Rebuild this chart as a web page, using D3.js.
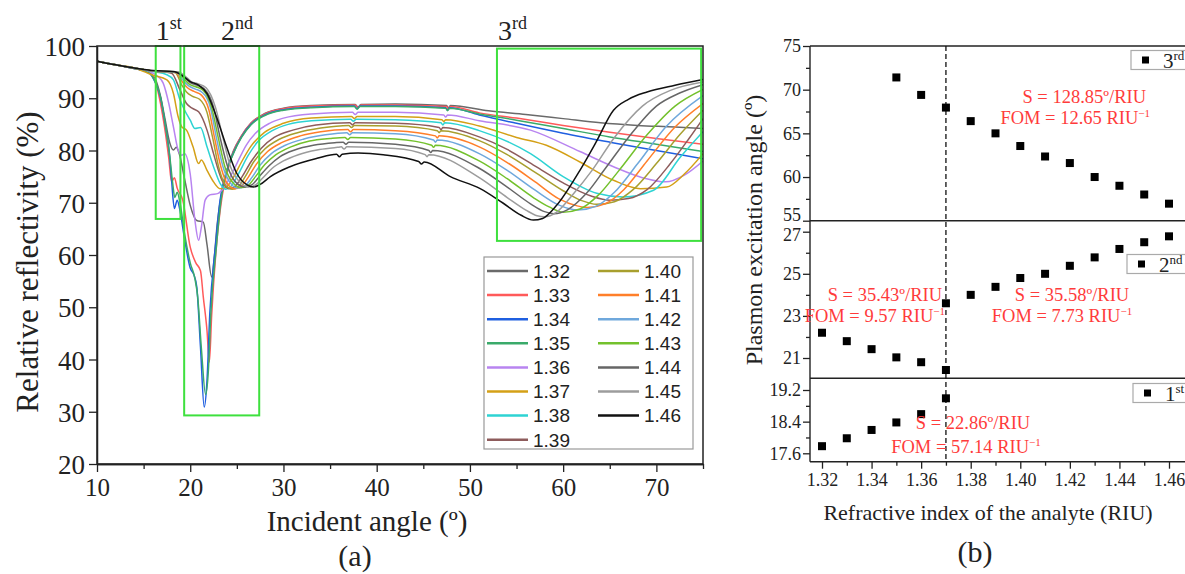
<!DOCTYPE html>
<html lang="en">
<head>
<meta charset="UTF-8">
<title>SPR reflectivity and plasmon angles</title>
<script src="https://cdn.jsdelivr.net/npm/d3@7"></script>
<style>
  body { margin: 0; background: #fff; }
  svg text { font-family: 'Liberation Serif', 'Times New Roman', serif; fill: #222; }
  .legend-text { font-family: 'Liberation Sans', Arial, sans-serif; }
  .note { fill: #ff3b3b; }
</style>
</head>
<body>
<svg id="chart" width="1185" height="574"></svg>
<script>
// ---------- panel (a): reflectivity curves, [angle, R%] ----------
const indices = ["1.32","1.33","1.34","1.35","1.36","1.37","1.38","1.39","1.40","1.41","1.42","1.43","1.44","1.45","1.46"];
const colors  = ["#6a6a6a","#ff5a5a","#1f5fe0","#3aaa6a","#b884f0","#d4a017","#2ed3d3","#8e5c5c","#a89f2e","#ff7f2a","#6fa8dc","#73c12c","#666666","#9c9c9c","#111111"];

const n132 = [[10,97.1],[12,96.4],[14,95.7],[15.5,95.0],[16.3,93.5],[16.8,90.5],[17.3,86],[17.8,81.5],[18.2,80.1],[18.5,80.6],[18.8,79.5],[19.4,74.5],[20,69.5],[20.7,66.6],[21.4,66.3],[21.8,62],[22.3,55.8],[22.6,60],[22.9,66],[23.4,72.2],[24,76.5],[24.6,79.8],[25.5,82.8],[26.5,85.2],[28,87.1],[30,88.1],[33,88.6],[37.7,88.8],[38.0,88.3],[38.3,88.8],[42,88.9],[47.5,88.6],[47.7,88.1],[47.9,88.6],[52,87.6],[56,86.9],[60,86.1],[64,85.3],[68,84.8],[72,84.5],[75,84.2]];
const n133 = [[10,97.1],[12,96.4],[14,95.7],[15.5,95.0],[16.2,93.5],[16.7,90],[17.2,85],[17.7,78.5],[18.0,74.0],[18.3,74.8],[18.6,72.8],[19.2,70.5],[20,61.5],[20.6,58.5],[21.1,57],[21.4,52],[21.8,45.5],[22.05,39.5],[22.3,48.5],[22.8,61.5],[23.4,71],[24,76],[24.6,79.6],[25.5,82.8],[26.5,85.2],[28,87],[30,88],[33,88.5],[37.7,88.7],[38.0,88.2],[38.3,88.7],[42,88.7],[47.5,88.4],[47.7,87.9],[47.9,88.4],[51,87.2],[55,86.2],[60,84.8],[65,83.5],[70,82.3],[75,81.2]];
const n134 = [[10,97.1],[12,96.4],[14,95.7],[15.5,95.0],[16.2,93.2],[16.8,90.2],[17.3,85.2],[17.8,78.8],[18.0,74.3],[18.3,68.9],[18.6,70.5],[18.9,68.5],[19.4,63],[20,57.5],[20.4,56.2],[20.7,53.9],[21.1,42.4],[21.5,30.9],[21.8,36],[22.1,48.8],[22.7,61.6],[23.2,70.5],[23.8,75.5],[24.6,79.4],[25.5,82.6],[26.5,85],[28,86.8],[30,87.8],[33,88.3],[37.6,88.5],[37.9,88.0],[38.2,88.5],[42,88.5],[47.4,88.2],[47.6,87.7],[47.8,88.2],[51,86.8],[55,85.2],[60,83.3],[65,81.6],[70,80],[75,78.4]];
const n135 = [[10,97.1],[12,96.4],[14,95.7],[15.5,95.0],[16.2,93.3],[16.8,90.3],[17.3,85.3],[17.8,79],[18.1,74],[18.35,71],[18.6,72],[18.9,70],[19.4,64],[20,58.5],[20.5,55.5],[20.8,52],[21.2,42],[21.65,33.3],[21.95,38],[22.2,48.5],[22.8,61.5],[23.3,70.5],[23.8,75.3],[24.6,79.3],[25.5,82.5],[26.5,84.9],[28,86.7],[30,87.7],[33,88.2],[37.6,88.4],[37.9,87.9],[38.2,88.4],[42,88.4],[47.4,88.1],[47.6,87.6],[47.8,88.1],[51,87.0],[55,85.8],[60,84.2],[65,82.6],[70,81.2],[75,79.8]];
const n136 = [[10,97.1],[12,96.4],[14,95.8],[15.5,95.2],[16.5,94.2],[17.1,92.9],[17.7,89.0],[18.2,84.5],[18.7,80.1],[19.1,79.1],[19.4,79.4],[20,75.5],[20.5,66.7],[20.9,62.8],[21.2,65.4],[21.6,70.5],[22.1,71.5],[23.0,71.8],[23.6,72.9],[24.3,75],[25,77.5],[26,81],[27,83.3],[28.5,85.2],[30,86.2],[33,87],[37.4,87.3],[37.7,86.9],[38.0,87.3],[42,87.3],[47.2,86.8],[47.4,86.4],[47.6,86.8],[51,85.7],[56.5,83.9],[61.8,79.8],[65.4,76.9],[68.5,74.8],[71,74],[73,75.3],[75,78]];
const n137 = [[10,97.1],[12,96.4],[14,95.8],[16,94.4],[17.5,93.5],[18.2,90.9],[18.7,86.5],[19.1,84.5],[19.6,83.9],[20.3,80.7],[20.9,77.5],[21.2,78.2],[21.8,76.2],[22.5,74],[23.2,72.7],[23.8,72.9],[24.5,74.5],[25.5,77.8],[26.5,80.8],[28,83.5],[30,85.2],[33,86.2],[37.3,86.5],[37.6,86.1],[37.9,86.5],[42,86.5],[47,85.9],[47.2,85.5],[47.4,85.9],[51,84.7],[55,82.5],[58.2,81.0],[61.8,77.8],[65.4,74.3],[68.3,72.7],[71.1,73.0],[73,75.5],[75,79.4]];
const n138 = [[10,97.1],[12,96.4],[14,95.8],[16,95.1],[17.5,94.5],[18.2,93.5],[18.9,89.7],[19.4,87.7],[20,85.8],[20.5,84.2],[21.1,84.4],[21.8,80.7],[22.5,76.9],[23.2,73.7],[23.8,72.6],[24.4,73.2],[25.2,75.6],[26.2,79],[27.3,81.8],[28.8,83.8],[30.5,85],[33,85.7],[37.2,86.0],[37.5,85.6],[37.8,86.0],[42,85.9],[46.9,85.3],[47.1,84.9],[47.3,85.3],[51,83.8],[56.5,79.4],[60,75.0],[63.6,71.8],[66.4,71.1],[69.7,72.4],[72.6,78.8],[75,83.6]];
const n139 = [[10,97.1],[12,96.4],[14,95.8],[16,95.2],[18,94.8],[18.9,91.6],[19.6,89.0],[20.2,88.1],[20.9,87.4],[21.8,83.9],[22.5,79.4],[23.4,74.3],[24.1,72.7],[24.7,73.0],[25.5,74.8],[26.5,77.8],[27.6,80.4],[29,82.5],[31,83.9],[33.5,84.9],[37.1,85.3],[37.4,84.9],[37.7,85.3],[42,85.2],[46.7,84.4],[46.9,84.0],[47.1,84.4],[51,82.6],[54,80.2],[57,77],[60,73.8],[63,71.3],[65,70.5],[67,70.8],[69,72.5],[71.5,77.5],[73.5,82.3],[75,86.1]];
const n140 = [[10,97.1],[12,96.4],[14,95.8],[16,95.2],[18.4,94.9],[19.1,92.5],[19.6,91.2],[20.2,90.4],[21,89.8],[21.8,87.3],[22.4,82.5],[23.1,76.5],[23.8,73.3],[24.5,72.6],[25.1,73],[25.9,75],[26.8,77.8],[28,80.3],[29.5,82.1],[31.5,83.4],[34,84.3],[37,84.8],[37.3,84.4],[37.6,84.8],[42,84.7],[46.5,83.8],[46.7,83.4],[46.9,83.8],[51,81.9],[54,79.2],[57,75.8],[60,72.3],[62,70.4],[63.6,69.7],[65.5,70.2],[67.5,72.5],[70,77.5],[72.5,83],[75,87.7]];
const n141 = [[10,97.1],[12,96.4],[14,95.8],[16,95.2],[18.5,94.9],[19.2,93],[19.7,92],[20.4,91.3],[21.2,90.6],[22,87.8],[22.6,82.5],[23.3,76.8],[24,73.6],[24.8,72.7],[25.4,73],[26.2,74.8],[27.1,77.4],[28.3,79.8],[29.8,81.5],[31.8,82.8],[34,83.6],[36.9,84.0],[37.2,83.6],[37.5,84.0],[42,83.8],[46.3,82.8],[46.5,82.4],[46.7,82.8],[51,80.7],[54,77.7],[57,74],[59.5,70.8],[61.5,69.4],[62.6,69.1],[64.5,69.8],[66.5,72.5],[69,78],[72,84.5],[75,89.0]];
const n142 = [[10,97.1],[12,96.4],[14,95.8],[16,95.2],[18.6,94.9],[19.3,93.3],[19.8,92.4],[20.5,91.8],[21.3,91.1],[22.2,88],[22.8,82.5],[23.5,77],[24.3,73.8],[25.1,72.8],[25.8,73.1],[26.6,74.8],[27.5,77.2],[28.7,79.4],[30.2,81],[32.2,82.2],[34.5,83.0],[36.8,83.4],[37.1,83.0],[37.4,83.4],[42,83.2],[46.1,82.0],[46.3,81.6],[46.5,82.0],[51,79.4],[54,76.2],[57,72.4],[59.5,69.6],[61.6,68.6],[63.5,69.3],[65.5,72],[68,77.5],[71,84.5],[75,90.5]];
const n143 = [[10,97.1],[12,96.4],[14,95.8],[16,95.2],[18.6,95],[19.4,93.6],[19.9,92.7],[20.6,92.2],[21.4,91.5],[22.3,88.2],[23,82.5],[23.7,77],[24.6,73.8],[25.5,72.9],[26.2,73.3],[27,75],[28,77.3],[29.2,79.2],[30.8,80.7],[32.8,81.8],[35,82.3],[36.6,82.5],[36.9,82.1],[37.2,82.5],[42,82.2],[45.9,81.0],[46.1,80.6],[46.3,81.0],[51,78.0],[54,74.6],[56.8,71],[58.5,69.2],[60,68.2],[61.8,68.8],[63.8,71.5],[66,76.2],[69,83],[72,88.5],[75,91.7]];
const n144 = [[10,97.1],[12,96.4],[14,95.8],[16,95.2],[18.7,95],[19.5,93.8],[20,93],[20.7,92.5],[21.5,91.8],[22.5,88.3],[23.2,82.5],[24,77],[24.9,73.9],[25.9,73],[26.6,73.4],[27.4,75],[28.4,77],[29.6,78.8],[31.2,80.1],[33.2,81.0],[35.5,81.5],[36.4,81.6],[36.7,81.2],[37,81.6],[42,81.2],[45.6,80.0],[45.8,79.6],[46,80.0],[51,76.6],[54,73],[56.5,69.8],[58,68.3],[59,67.9],[60.5,68.7],[62.5,71.8],[64.5,76.5],[67,82.5],[70,88.5],[72.5,91],[75,92.6]];
const n145 = [[10,97.1],[12,96.4],[14,95.8],[16,95.2],[18.8,95],[19.6,94],[20.1,93.2],[20.8,92.8],[21.7,92],[22.7,88.3],[23.5,82.5],[24.3,77],[25.3,74],[26.3,73],[27,73.4],[27.8,74.8],[28.8,76.6],[30,78.0],[31.6,79.2],[33.6,80.1],[35.8,80.6],[36.2,80.7],[36.5,80.3],[36.8,80.7],[42,80.4],[45.2,79.2],[45.4,78.8],[45.6,79.2],[51,74.8],[54,71],[56,68.6],[57.2,67.5],[58,67.3],[59.3,68.2],[61,71.5],[63.1,76.2],[65.5,82.5],[68.5,88.5],[71.5,91.5],[75,93.1]];
const n146 = [[10,97.1],[12,96.4],[14,95.8],[16,95.3],[18.2,95.1],[19.1,94.4],[20,93.2],[20.9,92.5],[21.8,90.9],[22.8,86.5],[23.9,80.7],[25,75.6],[26.1,73.4],[26.8,73.0],[27.5,73.5],[28.6,75.0],[30.7,76.9],[33.6,78.5],[35.7,79.3],[36.0,78.8],[36.3,79.3],[38,79.5],[40.7,79.2],[44.5,77.9],[44.8,77.4],[45.1,77.8],[47.9,75.0],[51.1,72.7],[53.5,70],[55.5,67.6],[56.8,66.7],[57.8,67.0],[59.3,69.5],[61.8,76.2],[63.5,81.5],[65.4,87.7],[67,89.8],[69,91.2],[72,92.5],[75,93.6]];
const curves = [n132,n133,n134,n135,n136,n137,n138,n139,n140,n141,n142,n143,n144,n145,n146];

// resonance boxes [x0, x1, y0, y1] and their labels
const boxes = [[16.3,18.95,66.9,100],[19.35,27.4,29.3,100],[52.9,74.8,62.7,99.5]];
const boxLabels = [["1","st",16.3],["2","nd",23.3],["3","rd",53.0]];

// ---------- panel (b): plasmon excitation angles ----------
const thirdPts  = [[1.35,71.4],[1.36,69.4],[1.37,67.95],[1.38,66.4],[1.39,65.0],[1.40,63.55],[1.41,62.35],[1.42,61.6],[1.43,60.0],[1.44,59.0],[1.45,58.0],[1.46,56.95]];
const secondPts = [[1.32,22.2],[1.33,21.8],[1.34,21.42],[1.35,21.03],[1.36,20.8],[1.37,20.43],[1.37,23.6],[1.38,24.0],[1.39,24.38],[1.40,24.8],[1.41,25.0],[1.42,25.38],[1.43,25.78],[1.44,26.18],[1.45,26.5],[1.46,26.78]];
const firstPts  = [[1.32,17.78],[1.33,17.98],[1.34,18.19],[1.35,18.38],[1.36,18.59],[1.37,18.99]];
const riuTicks = [1.32,1.34,1.36,1.38,1.40,1.42,1.44,1.46];

const svg = d3.select("#chart");

// ================= panel (a) =================
const xA = d3.scaleLinear().domain([10, 75]).range([97, 703]);
const yA = d3.scaleLinear().domain([20, 100]).range([464, 46]);

svg.append("clipPath").attr("id", "clipA")
  .append("rect").attr("x", 97).attr("y", 46).attr("width", 606).attr("height", 418);

const line = d3.line().x(d => xA(d[0])).y(d => yA(d[1])).curve(d3.curveMonotoneX);

const gCurves = svg.append("g").attr("clip-path", "url(#clipA)");
curves.forEach((c, i) => {
  gCurves.append("path").attr("d", line(c))
    .attr("fill", "none").attr("stroke", colors[i]).attr("stroke-width", 1.5)
    .attr("stroke-linejoin", "round");
});

// green boxes
boxes.forEach(b => {
  svg.append("rect")
    .attr("x", xA(b[0])).attr("y", yA(b[3]))
    .attr("width", xA(b[1]) - xA(b[0])).attr("height", yA(b[2]) - yA(b[3]))
    .attr("fill", "none").attr("stroke", "#3ee03e").attr("stroke-width", 2);
});
boxLabels.forEach(l => {
  const t = svg.append("text").attr("x", xA(l[2])).attr("y", 40).attr("font-size", 28);
  t.append("tspan").text(l[0]);
  t.append("tspan").attr("dy", -11).attr("font-size", 18).text(l[1]);
});

// frame
svg.append("rect").attr("x", 97).attr("y", 46).attr("width", 606).attr("height", 418)
  .attr("fill", "none").attr("stroke", "#222").attr("stroke-width", 1.5);

// axes
const axA = svg.append("g").attr("transform", "translate(0,464)")
  .call(d3.axisBottom(xA).tickValues(d3.range(10, 71, 10)).tickSize(8).tickSizeOuter(0).tickPadding(6));
svg.append("g").attr("transform", "translate(0,464)")
  .call(d3.axisBottom(xA).tickValues(d3.range(15, 76, 10)).tickSize(5).tickSizeOuter(0).tickFormat(""));
const ayA = svg.append("g").attr("transform", "translate(97,0)")
  .call(d3.axisLeft(yA).tickValues(d3.range(20, 101, 10)).tickSize(8).tickSizeOuter(0).tickPadding(4));
axA.selectAll("text").attr("font-size", 25);
ayA.selectAll("text").attr("font-size", 27).attr("dy", "0.36em");
svg.selectAll(".domain").attr("stroke", "#222").attr("stroke-width", 1.5);
svg.selectAll(".tick line").attr("stroke", "#222").attr("stroke-width", 1.3);
svg.selectAll(".tick text").attr("fill", "#222").attr("font-family", "'Liberation Serif', serif");

svg.append("text").attr("transform", "translate(38,262) rotate(-90)")
  .attr("text-anchor", "middle").attr("font-size", 31).text("Relative reflectivity (%)");
svg.append("text").attr("x", 367).attr("y", 531).attr("text-anchor", "middle")
  .attr("font-size", 29).text("Incident angle (º)");
svg.append("text").attr("x", 355).attr("y", 566).attr("text-anchor", "middle")
  .attr("font-size", 30).text("(a)");

// legend
const leg = svg.append("g");
leg.append("rect").attr("x", 484).attr("y", 257).attr("width", 209).attr("height", 192)
  .attr("fill", "#fff").attr("stroke", "#999").attr("stroke-width", 1.2);
indices.forEach((name, i) => {
  const col = i < 8 ? 0 : 1;
  const row = i < 8 ? i : i - 8;
  const x0 = col === 0 ? 487 : 598;
  const y0 = 271 + row * 24.1;
  leg.append("line").attr("x1", x0).attr("x2", x0 + 41).attr("y1", y0).attr("y2", y0)
    .attr("stroke", colors[i]).attr("stroke-width", 2.5);
  leg.append("text").attr("class", "legend-text").attr("x", x0 + 46).attr("y", y0)
    .attr("dy", "0.36em").attr("font-size", 19).text(name);
});

// ================= panel (b) =================
const xB = d3.scaleLinear().domain([1.32, 1.46]).range([822, 1169]);
const y3 = d3.scaleLinear().domain([55, 75]).range([220.7, 46]);
const y2 = d3.scaleLinear().domain([21, 27]).range([358, 231.7]);
const y1 = d3.scaleLinear().domain([17.6, 19.2]).range([453.3, 390]);
const leftB = 810, rightB = 1200;

function yAxis(scale, major, minor, fmt) {
  const g = svg.append("g").attr("transform", `translate(${leftB},0)`)
    .call(d3.axisLeft(scale).tickValues(major).tickSize(7).tickSizeOuter(0).tickPadding(2).tickFormat(fmt));
  g.select(".domain").remove();
  g.selectAll("text").attr("font-size", 18);
  svg.append("g").attr("transform", `translate(${leftB},0)`)
    .call(d3.axisLeft(scale).tickValues(minor).tickSize(4).tickFormat(""))
    .select(".domain").remove();
  return g;
}
const g3 = yAxis(y3, [55, 60, 65, 70, 75], [57.5, 62.5, 67.5, 72.5], d3.format("d"));
const g2 = yAxis(y2, [21, 23, 25, 27], [22, 24, 26], d3.format("d"));
yAxis(y1, [17.6, 18.4, 19.2], [18.0, 18.8], d3.format(".1f"));
// the "55" and "27" labels sit on the same panel border: pull them apart
g3.selectAll(".tick text").filter(d => d === 55).attr("y", -6);
g2.selectAll(".tick text").filter(d => d === 27).attr("y", 3);

const axB = svg.append("g").attr("transform", "translate(0,461.7)")
  .call(d3.axisBottom(xB).tickValues(riuTicks).tickSize(7).tickSizeOuter(0).tickPadding(5).tickFormat(d3.format(".2f")));
axB.select(".domain").remove();
axB.selectAll("text").attr("font-size", 18);
svg.append("g").attr("transform", "translate(0,461.7)")
  .call(d3.axisBottom(xB).tickValues([1.33, 1.35, 1.37, 1.39, 1.41, 1.43, 1.45]).tickSize(4).tickFormat(""))
  .select(".domain").remove();

svg.selectAll(".tick line").attr("stroke", "#222").attr("stroke-width", 1.3);
svg.selectAll(".tick text").attr("fill", "#222").attr("font-family", "'Liberation Serif', serif");

// frame and panel separators
[46, 220.7, 378.3, 461.7].forEach(y => {
  svg.append("line").attr("x1", leftB).attr("x2", rightB).attr("y1", y).attr("y2", y)
    .attr("stroke", "#222").attr("stroke-width", 1.4);
});
svg.append("line").attr("x1", leftB).attr("x2", leftB).attr("y1", 46).attr("y2", 461.7)
  .attr("stroke", "#222").attr("stroke-width", 1.4);

// dashed line at n = 1.37
svg.append("line").attr("x1", xB(1.37)).attr("x2", xB(1.37)).attr("y1", 46).attr("y2", 461.7)
  .attr("stroke", "#111").attr("stroke-width", 1.3).attr("stroke-dasharray", "5,3");

// markers
const sq = 8;
function markers(pts, scale) {
  svg.append("g").selectAll("rect").data(pts).join("rect")
    .attr("x", d => xB(d[0]) - sq / 2).attr("y", d => scale(d[1]) - sq / 2)
    .attr("width", sq).attr("height", sq).attr("fill", "#000");
}
markers(thirdPts, y3);
markers(secondPts, y2);
markers(firstPts, y1);

// legend boxes at right edge
function tag(x, y, main, sup) {
  svg.append("rect").attr("x", x).attr("y", y - 10).attr("width", 70).attr("height", 19)
    .attr("fill", "#fff").attr("stroke", "#aaa").attr("stroke-width", 1.2);
  svg.append("rect").attr("x", x + 11).attr("y", y - 4).attr("width", 7).attr("height", 7).attr("fill", "#000");
  const t = svg.append("text").attr("x", x + 32).attr("y", y + 7).attr("font-size", 21);
  t.append("tspan").text(main);
  t.append("tspan").attr("dy", -8).attr("font-size", 13).text(sup);
}
tag(1131, 60.5, "3", "rd");
tag(1127, 264.5, "2", "nd");
tag(1133, 393.5, "1", "st");

// annotations
function note(x, y, anchor, text, sup) {
  const t = svg.append("text").attr("class", "note").attr("x", x).attr("y", y)
    .attr("text-anchor", anchor).attr("font-size", 18.5);
  t.append("tspan").text(text);
  if (sup) t.append("tspan").attr("dy", -7).attr("font-size", 11).text(sup);
}
note(1146, 103, "end", "S = 128.85º/RIU");
note(1150, 124, "end", "FOM = 12.65 RIU", "−1");
note(942, 301, "end", "S = 35.43º/RIU");
note(945, 322, "end", "FOM = 9.57 RIU", "−1");
note(1072, 301, "middle", "S = 35.58º/RIU");
note(1062, 322, "middle", "FOM = 7.73 RIU", "−1");
note(973, 429, "middle", "S = 22.86º/RIU");
note(966, 453, "middle", "FOM = 57.14 RIU", "−1");

svg.append("text").attr("transform", "translate(762,230) rotate(-90)")
  .attr("text-anchor", "middle").attr("font-size", 24).text("Plasmon excitation angle (º)");
svg.append("text").attr("x", 988).attr("y", 520).attr("text-anchor", "middle")
  .attr("font-size", 22).text("Refractive index of the analyte (RIU)");
svg.append("text").attr("x", 975).attr("y", 562).attr("text-anchor", "middle")
  .attr("font-size", 30).text("(b)");
</script>
</body>
</html>
